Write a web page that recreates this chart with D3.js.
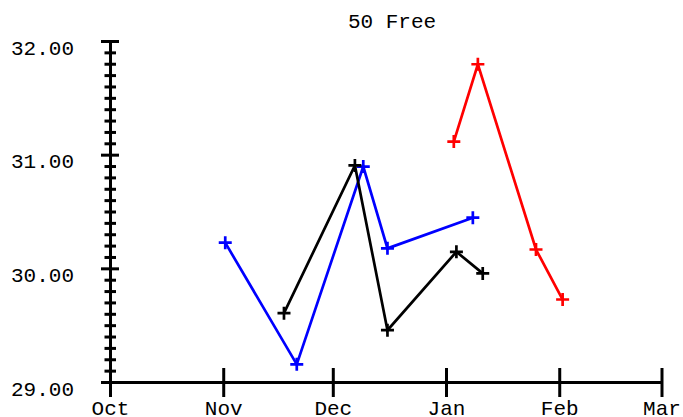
<!DOCTYPE html>
<html>
<head>
<meta charset="utf-8">
<script src="https://cdn.jsdelivr.net/npm/d3@7"></script>
<style>
  html, body { margin: 0; padding: 0; background: #fff; }
  svg { display: block; }
  text { font-family: "Liberation Mono", "Courier New", monospace; fill: #000; }
</style>
</head>
<body>
<svg id="chart" width="683" height="417"></svg>
<script>
// ---- data ----
const title = "50 Free";
const monthTicks = ["2002-10-01", "2002-11-01", "2002-12-01", "2003-01-01", "2003-02-01", "2003-03-01"];
const monthLabels = ["Oct", "Nov", "Dec", "Jan", "Feb", "Mar"];
const yTicks = [29, 30, 31, 32];

const blueDates  = ["2002-11-01T10:00", "2002-11-21", "2002-12-09T05:00", "2002-12-15T20:00", "2003-01-08T05:00"];
const blueTimes  = [30.23, 29.16, 30.90, 30.18, 30.45];
const blackDates = ["2002-11-17T12:00", "2002-12-06T22:00", "2002-12-15T20:00", "2003-01-03T17:00", "2003-01-10T22:00"];
const blackTimes = [29.61, 30.91, 29.46, 30.15, 29.96];
const redDates   = ["2003-01-03", "2003-01-09T14:00", "2003-01-25T12:00", "2003-02-01T19:00"];
const redTimes   = [31.12, 31.80, 30.17, 29.73];

const series = [
  { color: "#0000ff", dates: blueDates,  values: blueTimes },
  { color: "#000000", dates: blackDates, values: blackTimes },
  { color: "#ff0000", dates: redDates,   values: redTimes }
];

// ---- layout ----
const svg = d3.select("#chart");
const parse = d => new Date(d + (d.length === 10 ? "T00:00Z" : "Z"));
const x = d3.scaleUtc()
  .domain([parse(monthTicks[0]), parse(monthTicks[monthTicks.length - 1])])
  .range([110.5, 662]);
const y = d3.scaleLinear().domain([29, 32]).range([382.5, 41.5]);

const FS = 21;

// title
svg.append("text")
  .attr("x", 392).attr("y", 28)
  .attr("text-anchor", "middle")
  .attr("font-size", FS)
  .text(title);

// y axis
const yAxis = svg.append("g");
yAxis.append("line")
  .attr("x1", x.range()[0]).attr("x2", x.range()[0])
  .attr("y1", y(29)).attr("y2", y(32))
  .attr("stroke", "#000").attr("stroke-width", 3);
const minor = d3.range(290, 321).map(v => v / 10);
const isMajor = d => Math.abs(d - Math.round(d)) < 1e-9;
yAxis.selectAll("line.tk").data(minor).join("line")
  .attr("class", "tk")
  .attr("x1", d => isMajor(d) ? 101 : 104.5)
  .attr("x2", d => isMajor(d) ? 119 : 116)
  .attr("y1", d => y(d)).attr("y2", d => y(d))
  .attr("stroke", "#000").attr("stroke-width", 3);
yAxis.selectAll("text").data(yTicks).join("text")
  .attr("x", 74).attr("y", d => y(d) + 13)
  .attr("text-anchor", "end")
  .attr("font-size", FS)
  .text(d => d3.format(".2f")(d));

// x axis
const xAxis = svg.append("g");
xAxis.append("line")
  .attr("x1", 101).attr("x2", x.range()[1])
  .attr("y1", y(29)).attr("y2", y(29))
  .attr("stroke", "#000").attr("stroke-width", 3);
xAxis.selectAll("line.tk").data(monthTicks).join("line")
  .attr("class", "tk")
  .attr("x1", d => x(parse(d))).attr("x2", d => x(parse(d)))
  .attr("y1", (d, i) => i === 0 ? y(29) : 368).attr("y2", 397)
  .attr("stroke", "#000").attr("stroke-width", 3);
xAxis.selectAll("text").data(monthTicks).join("text")
  .attr("x", d => x(parse(d))).attr("y", 415)
  .attr("text-anchor", "middle")
  .attr("font-size", FS)
  .text((d, i) => monthLabels[i]);

// series
const line = d3.line().x(d => x(d.date)).y(d => y(d.v));
series.forEach(s => {
  const pts = s.dates.map((d, i) => ({ date: parse(d), v: s.values[i] }));
  const g = svg.append("g");
  g.append("path").datum(pts)
    .attr("d", line)
    .attr("fill", "none")
    .attr("stroke", s.color).attr("stroke-width", 2.7);
  const m = 6.5;
  g.selectAll("path.mk").data(pts).join("path")
    .attr("class", "mk")
    .attr("d", d => {
      const cx = x(d.date), cy = y(d.v);
      return `M${cx - m},${cy}H${cx + m}M${cx},${cy - m}V${cy + m}`;
    })
    .attr("stroke", s.color).attr("stroke-width", 2.7)
    .attr("fill", "none");
});
</script>
</body>
</html>
